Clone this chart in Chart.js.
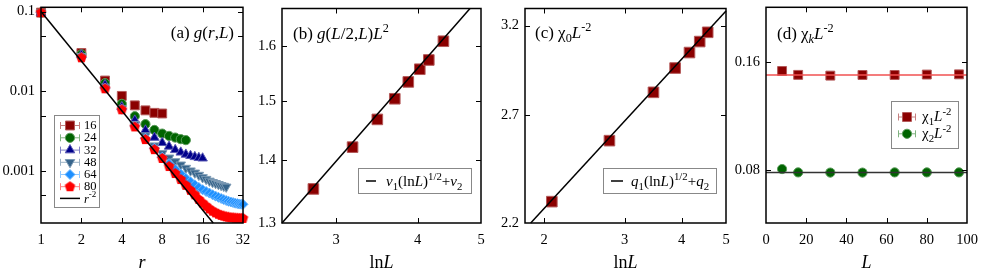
<!DOCTYPE html>
<html>
<head>
<meta charset="utf-8">
<script src="https://cdn.jsdelivr.net/npm/chart.js@4.4.1/dist/chart.umd.min.js"></script>
<style>
html, body { margin: 0; padding: 0; background: #fff; }
#wrap { position: relative; width: 981px; height: 273px; }
#wrap canvas { position: absolute; left: 0; top: 0; }
</style>
</head>
<body>
<div id="wrap">
  <canvas id="ca" width="981" height="273"></canvas>
  <canvas id="cb" width="981" height="273"></canvas>
  <canvas id="cc" width="981" height="273"></canvas>
  <canvas id="cd" width="981" height="273"></canvas>
</div>
<script>
// ---- panel (a): g(r,L), log-log
const rA = [1,2,3,4,5,6,7,8,9,10,11,12,13,14,15,16,17,18,19,20,21,22,23,24,25,26,27,28,29,30,31,32];
const g16 = [0.097, 0.0303, 0.0137, 0.0088, 0.0067, 0.0058, 0.0054, 0.0053];
const g24 = [0.097, 0.0292, 0.0127, 0.0070, 0.0049, 0.0039, 0.0033, 0.00297, 0.00278, 0.00265, 0.00253, 0.00246];
const g32 = [0.097, 0.0285, 0.0121, 0.0064, 0.00435, 0.00327, 0.00265, 0.00228, 0.00205, 0.00186, 0.00173, 0.00163,
             0.00157, 0.00152, 0.00148, 0.00146];
const g48 = [0.097, 0.0275, 0.0114, 0.0061, 0.0039, 0.0028, 0.0021, 0.00168, 0.00148, 0.00133, 0.00121, 0.0011,
             0.00102, 0.00096, 0.0009, 0.00084, 0.0008, 0.00076, 0.00073, 0.00071, 0.00069, 0.00067, 0.000655, 0.00064];
const g64 = [0.097, 0.0268, 0.011, 0.006, 0.0037, 0.0026, 0.00195, 0.0015, 0.00125, 0.00106, 0.00093, 0.00082,
             0.00074, 0.00068, 0.00063, 0.00059, 0.00056, 0.000535, 0.00051, 0.00049, 0.000473, 0.000458, 0.000444, 0.000432,
             0.000422, 0.000414, 0.000407, 0.0004, 0.000395, 0.00039, 0.000388, 0.000387];
const g80 = [0.097, 0.0264, 0.0108, 0.0059, 0.0036, 0.0025, 0.00187, 0.00145, 0.00115, 0.00094, 0.00079, 0.00067,
             0.00058, 0.00051, 0.000445, 0.000402, 0.000367, 0.000339, 0.000318, 0.000303, 0.000291, 0.000282, 0.000276, 0.00027,
             0.000267, 0.000263, 0.000262, 0.00026, 0.000259, 0.000258, 0.000258, 0.000258];
const powX = [1, 19.2];
const powY = [0.1, 0.000226];

// ---- panel (b): g(L/2,L)L^2 vs lnL
const lnB = [2.77, 3.18, 3.47, 3.69, 3.87, 4.03, 4.16, 4.38];
const gHalf = [1.353, 1.421, 1.468, 1.504, 1.534, 1.557, 1.574, 1.609];
const fitBx = [2.48, 4.81];
const fitBy = [1.3, 1.672];

// ---- panel (c): chi0 L^-2 vs lnL
const lnC = [2.08, 2.78, 3.47, 3.87, 4.16, 4.38, 4.56];
const chi0 = [2.291, 2.572, 2.819, 2.952, 3.040, 3.104, 3.159];
const fitCx = [1.87, 5.0];
const fitCy = [2.2, 3.29];

// ---- panel (d): chi_k L^-2 vs L
const Ld = [8, 16, 32, 48, 64, 80, 96];
const chi1 = [0.1508, 0.1471, 0.1464, 0.1470, 0.1470, 0.1474, 0.1476];
const chi2 = [0.0805, 0.0788, 0.0787, 0.0787, 0.0788, 0.0788, 0.0788];
const fitDx = [0, 100];
const chi1Fit = [0.1471, 0.1471];
const chi2Fit = [0.0788, 0.0788];

const SERIF = '"Liberation Serif", "DejaVu Serif", serif';

function pts(xs, ys) { return ys.map((y, i) => ({ x: xs[i], y: y })); }

function lighten(hex, k) {
  const n = parseInt(hex.slice(1), 16);
  const c = [(n >> 16) & 255, (n >> 8) & 255, n & 255].map(v => Math.round(v + (255 - v) * k));
  return 'rgb(' + c.join(',') + ')';
}

function pentagon(color, r) {
  const c = document.createElement('canvas');
  const s = Math.ceil(r * 2 + 2);
  c.width = c.height = s;
  const g = c.getContext('2d');
  g.fillStyle = color;
  g.beginPath();
  for (let k = 0; k < 5; k++) {
    const a = -Math.PI / 2 + k * 2 * Math.PI / 5;
    g.lineTo(s / 2 + r * Math.cos(a), s / 2 + r * Math.sin(a));
  }
  g.closePath();
  g.fill();
  return c;
}

// rich text: parts = [text, flags], flags: i italic, s sub, p sup
function rich(ctx, x, y, parts, size, align) {
  const seg = parts.map(([t, f = '']) => {
    const small = f.includes('s') || f.includes('p');
    const sz = small ? size * 0.72 : size;
    const font = (f.includes('i') ? 'italic ' : '') + sz + 'px ' + SERIF;
    ctx.font = font;
    const dy = f.includes('s') ? size * 0.25 : (f.includes('p') ? -size * 0.42 : 0);
    return { t, font, dy, w: ctx.measureText(t).width };
  });
  const total = seg.reduce((a, s) => a + s.w, 0);
  let cx = align === 'center' ? x - total / 2 : (align === 'right' ? x - total : x);
  ctx.textAlign = 'left';
  ctx.textBaseline = 'alphabetic';
  for (const s of seg) {
    ctx.font = s.font;
    ctx.fillText(s.t, cx, y + s.dy);
    cx += s.w;
  }
}

const deco = {
  id: 'deco',
  afterDatasetsDraw(chart, args, o) {
    const ctx = chart.ctx, a = chart.chartArea;
    const xs = chart.scales.x, ys = chart.scales.y;
    ctx.save();
    // inward tick marks on all four sides
    ctx.strokeStyle = '#000';
    ctx.lineWidth = 1;
    ctx.beginPath();
    for (const v of o.xMarks) {
      const p = Math.round(xs.getPixelForValue(v)) + 0.5;
      ctx.moveTo(p, a.bottom); ctx.lineTo(p, a.bottom - 5);
      ctx.moveTo(p, a.top); ctx.lineTo(p, a.top + 5);
    }
    for (const v of o.yMarks) {
      const p = Math.round(ys.getPixelForValue(v)) + 0.5;
      ctx.moveTo(a.left, p); ctx.lineTo(a.left + 5, p);
      ctx.moveTo(a.right, p); ctx.lineTo(a.right - 5, p);
    }
    ctx.stroke();
    ctx.lineWidth = 1.5;
    ctx.strokeRect(a.left, a.top, a.right - a.left, a.bottom - a.top);

    ctx.fillStyle = '#000';
    rich(ctx, o.title.x, o.title.y, o.title.parts, 17, o.title.align);
    rich(ctx, (a.left + a.right) / 2, 268, o.axisTitle, 18, 'center');

    const lg = o.legend;
    if (lg) {
      ctx.strokeStyle = '#888';
      ctx.lineWidth = 1;
      ctx.strokeRect(lg.box[0] + 0.5, lg.box[1] + 0.5, lg.box[2], lg.box[3]);
      for (const it of lg.items) {
        const ds = chart.data.datasets[it.ds];
        if (it.kind === 'line') {
          ctx.strokeStyle = ds.borderColor;
          ctx.lineWidth = 1.5;
          ctx.beginPath();
          ctx.moveTo(lg.x1, it.y); ctx.lineTo(lg.x2, it.y);
          ctx.stroke();
        } else {
          ctx.strokeStyle = lighten(ds.backgroundColor, 0.5);
          ctx.lineWidth = 1;
          ctx.beginPath();
          ctx.moveTo(lg.x1, it.y + 0.5); ctx.lineTo(lg.x2, it.y + 0.5);
          ctx.moveTo(lg.x1 + 0.5, it.y - 3); ctx.lineTo(lg.x1 + 0.5, it.y + 4);
          ctx.moveTo(lg.x2 - 0.5, it.y - 3); ctx.lineTo(lg.x2 - 0.5, it.y + 4);
          ctx.stroke();
          ctx.fillStyle = ds.backgroundColor;
          ctx.strokeStyle = ds.borderColor;
          Chart.helpers.drawPoint(ctx, {
            pointStyle: ds.pointStyle, rotation: ds.pointRotation || 0,
            radius: ds.pointRadius, borderWidth: ds.borderWidth
          }, (lg.x1 + lg.x2) / 2, it.y + 0.5);
        }
        ctx.fillStyle = '#000';
        rich(ctx, lg.tx, it.y + lg.size * 0.33, it.parts, lg.size, 'left');
      }
    }
    ctx.restore();
  }
};

// build one panel; plot area given in page pixels
function panel(id, area, xScale, yScale, datasets, decoOpts) {
  const yW = 40, xH = 40;
  const tickFont = { family: SERIF, size: 14.5 };
  const fixTicks = vals => scale => { scale.ticks = vals.map(v => ({ value: v })); };
  new Chart(document.getElementById(id), {
    type: 'scatter',
    data: { datasets: datasets },
    options: {
      responsive: false,
      animation: false,
      devicePixelRatio: 1,
      layout: { padding: { left: area.l - yW, right: 981 - area.r, top: area.t, bottom: 273 - area.b - xH } },
      plugins: { legend: { display: false }, tooltip: { enabled: false }, deco: decoOpts },
      scales: {
        x: {
          type: xScale.type, min: xScale.min, max: xScale.max,
          grid: { display: false, drawTicks: false }, border: { display: false },
          afterBuildTicks: fixTicks(xScale.ticks),
          afterFit: s => { s.height = xH; s.paddingLeft = 0; s.paddingRight = 0; },
          ticks: { autoSkip: false, maxRotation: 0, padding: 8, color: '#000', font: tickFont,
                   callback: v => xScale.label(v) }
        },
        y: {
          type: yScale.type, min: yScale.min, max: yScale.max,
          grid: { display: false, drawTicks: false }, border: { display: false },
          afterBuildTicks: fixTicks(yScale.ticks),
          afterFit: s => { s.width = yW; s.paddingTop = 0; s.paddingBottom = 0; },
          ticks: { autoSkip: false, padding: 6, color: '#000', font: tickFont,
                   callback: v => yScale.label(v) }
        }
      }
    },
    plugins: [deco]
  });
}

const lineDs = (xs, ys, color) => ({
  data: pts(xs, ys), showLine: true, pointRadius: 0, borderColor: color, borderWidth: 1.5, clip: false
});
const ptDs = (xs, ys, color, style, radius, rot) => ({
  data: pts(xs, ys), showLine: false, pointStyle: style, pointRadius: radius, pointRotation: rot || 0,
  backgroundColor: color, borderColor: lighten(color, 0.35), borderWidth: 1, clip: false
});

const C16 = '#8b0000', C24 = '#006400', C32 = '#00008b', C48 = '#36648b', C64 = '#1e90ff', C80 = '#ff0000';

// (a)
panel('ca', { l: 41, t: 5, r: 243, b: 223 },
  { type: 'logarithmic', min: 1, max: 32, ticks: [1, 2, 4, 8, 16, 32], label: v => String(v) },
  { type: 'logarithmic', min: 0.000226, max: 0.113, ticks: [0.001, 0.01, 0.1], label: v => String(v) },
  [
    lineDs(powX, powY, '#000'),
    ptDs(rA, g80, C80, pentagon(C80, 5.5), 5.5),
    ptDs(rA, g64, C64, 'rectRot', 5),
    ptDs(rA, g48, C48, 'triangle', 5.5, 180),
    ptDs(rA, g32, C32, 'triangle', 5.5),
    ptDs(rA, g24, C24, 'circle', 4.6),
    ptDs(rA, g16, C16, 'rect', 6.3)
  ],
  {
    xMarks: [2, 4, 8, 16], yMarks: [0.1, 0.05, 0.01, 0.005, 0.001, 0.0005],
    title: { x: 234, y: 38, align: 'right', parts: [['(a) '], ['g', 'i'], ['('], ['r', 'i'], [','], ['L', 'i'], [')']] },
    axisTitle: [['r', 'i']],
    legend: {
      box: [54, 115, 45, 92], x1: 60, x2: 80, tx: 84, size: 12.5,
      items: [
        { ds: 6, y: 125, parts: [['16']] },
        { ds: 5, y: 137.3, parts: [['24']] },
        { ds: 4, y: 149.6, parts: [['32']] },
        { ds: 3, y: 161.8, parts: [['48']] },
        { ds: 2, y: 174, parts: [['64']] },
        { ds: 1, y: 186.2, parts: [['80']] },
        { ds: 0, y: 198.4, kind: 'line', parts: [['r', 'i'], ['-2', 'p']] }
      ]
    }
  });

// (b)
panel('cb', { l: 282, t: 5, r: 481, b: 223 },
  { type: 'logarithmic', min: 2.48, max: 5, ticks: [3, 4, 5], label: v => String(v) },
  { type: 'logarithmic', min: 1.3, max: 1.672, ticks: [1.3, 1.4, 1.5, 1.6], label: v => v.toFixed(1) },
  [
    lineDs(fitBx, fitBy, '#000'),
    ptDs(lnB, gHalf, C16, 'rect', 7.5)
  ],
  {
    xMarks: [3, 4], yMarks: [1.4, 1.5, 1.6],
    title: { x: 293, y: 39, align: 'left', parts: [['(b) '], ['g', 'i'], ['('], ['L', 'i'], ['/2,'], ['L', 'i'], [')'], ['L', 'i'], ['2', 'p']] },
    axisTitle: [['ln'], ['L', 'i']],
    legend: {
      box: [358, 168, 113, 25], x1: 366, x2: 376, tx: 386, size: 15,
      items: [
        { ds: 0, y: 181, kind: 'line', parts: [['v', 'i'], ['1', 's'], ['(ln'], ['L', 'i'], [')'], ['1/2', 'p'], ['+'], ['v', 'i'], ['2', 's']] }
      ]
    }
  });

// (c)
panel('cc', { l: 525, t: 5, r: 726, b: 223 },
  { type: 'logarithmic', min: 1.817, max: 5, ticks: [2, 3, 4, 5], label: v => String(v) },
  { type: 'logarithmic', min: 2.2, max: 3.305, ticks: [2.2, 2.7, 3.2], label: v => v.toFixed(1) },
  [
    lineDs(fitCx, fitCy, '#000'),
    ptDs(lnC, chi0, C16, 'rect', 7.5)
  ],
  {
    xMarks: [2, 3, 4], yMarks: [2.7, 3.2],
    title: { x: 535, y: 38, align: 'left', parts: [['(c) '], ['χ'], ['0', 's'], ['L', 'i'], ['-2', 'p']] },
    axisTitle: [['ln'], ['L', 'i']],
    legend: {
      box: [603, 168, 113, 25], x1: 611, x2: 623, tx: 631, size: 15,
      items: [
        { ds: 0, y: 181, kind: 'line', parts: [['q', 'i'], ['1', 's'], ['(ln'], ['L', 'i'], [')'], ['1/2', 'p'], ['+'], ['q', 'i'], ['2', 's']] }
      ]
    }
  });

// (d)
panel('cd', { l: 766, t: 5, r: 967, b: 223 },
  { type: 'linear', min: 0, max: 100, ticks: [0, 20, 40, 60, 80, 100], label: v => String(v) },
  { type: 'logarithmic', min: 0.057, max: 0.2267, ticks: [0.08, 0.16], label: v => v.toFixed(2) },
  [
    lineDs(fitDx, chi1Fit, '#f05050'),
    lineDs(fitDx, chi2Fit, '#333333'),
    ptDs(Ld, chi2, C24, 'circle', 4.6),
    ptDs(Ld, chi1, C16, 'rect', 6.3)
  ],
  {
    xMarks: [20, 40, 60, 80], yMarks: [0.08, 0.16],
    title: { x: 777, y: 39, align: 'left', parts: [['(d) '], ['χ'], ['k', 'si'], ['L', 'i'], ['-2', 'p']] },
    axisTitle: [['L', 'i']],
    legend: {
      box: [891, 101, 67, 47], x1: 898, x2: 916, tx: 922, size: 15,
      items: [
        { ds: 3, y: 116.5, parts: [['χ'], ['1', 's'], ['L', 'i'], ['-2', 'p']] },
        { ds: 2, y: 133.3, parts: [['χ'], ['2', 's'], ['L', 'i'], ['-2', 'p']] }
      ]
    }
  });
</script>
</body>
</html>
